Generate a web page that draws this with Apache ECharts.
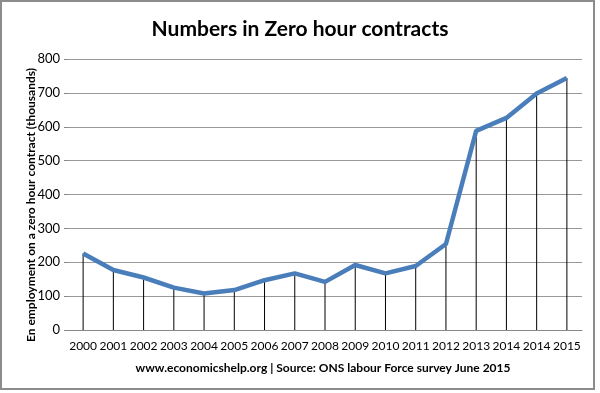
<!DOCTYPE html>
<html><head><meta charset="utf-8">
<script src="https://cdn.jsdelivr.net/npm/echarts@6/dist/echarts.min.js"></script>
<style>html,body{margin:0;padding:0;background:#fff}#c{width:600px;height:393px}</style>
</head><body><div id="c"></div>
<script>
const categories = ['2000','2001','2002','2003','2004','2005','2006','2007','2008','2009','2010','2011','2012','2013','2014','2014','2015'];
const zeroHourValues = [226,177,155,125,108,118,147,167,142,192,167,189,254,588,626,698,744];
const yTicks = [0,100,200,300,400,500,600,700,800];
const titleText = 'Numbers in Zero hour contracts';
const yAxisName = 'En employment on a zero hour contract (thousands)';
const footerText = 'www.economicshelp.org | Source: ONS labour Force survey June 2015';

const chart = echarts.init(document.getElementById('c'), null, {renderer:'canvas'});
const FONT = 'Lato';
chart.setOption({
  animation:false,
  backgroundColor:'#fff',
  title:[
    {text:titleText,left:'center',top:14,textStyle:{fontFamily:FONT,fontWeight:'bold',fontSize:21,color:'#000'}},
    {text:footerText,left:318,textAlign:'center',top:357,textStyle:{fontFamily:FONT,fontWeight:'bold',fontSize:12,color:'#000'}}
  ],
  graphic:[
    {type:'rect',shape:{x:1,y:1,width:593,height:388},style:{fill:'none',stroke:'#8c8c8c',lineWidth:2},silent:true},
    {type:'text',x:31,y:205,rotation:Math.PI/2,silent:true,
      style:{text:yAxisName,fontFamily:FONT,fontWeight:'bold',fontSize:12,fill:'#000',align:'center',verticalAlign:'middle'}}
  ],
  grid:{left:68,right:18,top:59,bottom:63,containLabel:false},
  xAxis:{type:'category',data:categories,boundaryGap:true,
    axisLine:{lineStyle:{color:'#888',width:1}},axisTick:{show:false},
    axisLabel:{fontFamily:FONT,fontSize:12,color:'#000',margin:10,interval:0}},
  yAxis:{type:'value',min:yTicks[0],max:yTicks[yTicks.length-1],interval:100,
    axisLine:{show:false},axisTick:{show:true,length:4,lineStyle:{color:'#888'}},
    splitLine:{lineStyle:{color:'#999',width:1}},
    axisLabel:{fontFamily:FONT,fontSize:13,color:'#000',margin:8}},
  series:[
    {type:'bar',data:zeroHourValues,barWidth:1,itemStyle:{color:'#000'},z:2,silent:true},
    {type:'line',data:zeroHourValues,symbol:'none',lineStyle:{color:'#4a7ebb',width:4.5},z:3}
  ]
});
</script></body></html>
